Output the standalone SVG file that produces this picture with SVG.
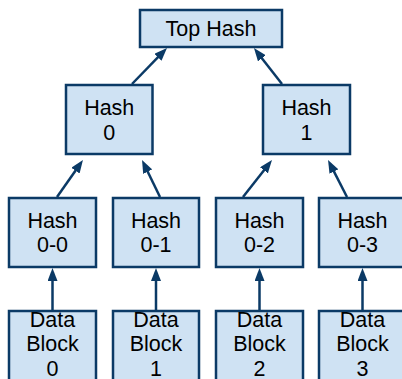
<svg xmlns="http://www.w3.org/2000/svg" width="402" height="379" viewBox="0 0 402 379">
<style>
.box{fill:#cfe2f3;stroke:#0b3a66;stroke-width:2.5}
.t{font-family:"Liberation Sans",Arial,sans-serif;font-size:21.5px;fill:#000;text-anchor:middle}
.c{stroke:#0b3a66;stroke-width:2.5;fill:none}
</style>
<defs>
<marker id="ah" markerUnits="userSpaceOnUse" markerWidth="13" markerHeight="10" refX="3" refY="5" orient="auto">
<path d="M0,0 L13,5 L0,10 z" fill="#0b3a66"/>
</marker>
</defs>
<g id="connectors">
<path class="c" d="M132,84 L160,55.2" marker-end="url(#ah)"/>
<path class="c" d="M282,84 L260.1,55.9" marker-end="url(#ah)"/>
<path class="c" d="M57,197 L77.2,168.2" marker-end="url(#ah)"/>
<path class="c" d="M160,197 L146.4,169" marker-end="url(#ah)"/>
<path class="c" d="M243,197 L265.8,167.9" marker-end="url(#ah)"/>
<path class="c" d="M347,197 L332.6,168.9" marker-end="url(#ah)"/>
<path class="c" d="M52.5,310 L52.5,278" marker-end="url(#ah)"/>
<path class="c" d="M156,310 L156,278" marker-end="url(#ah)"/>
<path class="c" d="M259.5,310 L259.5,278" marker-end="url(#ah)"/>
<path class="c" d="M362.5,310 L362.5,278" marker-end="url(#ah)"/>
</g>
<g id="top-hash"><rect class="box" x="140" y="10" width="142" height="37"/><text class="t" x="211" y="35.5">Top Hash</text></g>
<g id="hash-0"><rect class="box" x="66" y="85" width="86.5" height="69"/><text class="t" x="109.25" y="115">Hash</text><text class="t" x="109.25" y="140">0</text></g>
<g id="hash-1"><rect class="box" x="263" y="85" width="87" height="69"/><text class="t" x="306.5" y="115">Hash</text><text class="t" x="306.5" y="140">1</text></g>
<g id="hash-0-0"><rect class="box" x="9" y="198" width="87" height="69"/><text class="t" x="52.5" y="228">Hash</text><text class="t" x="52.5" y="252">0-0</text></g>
<g id="hash-0-1"><rect class="box" x="113" y="198" width="86" height="69"/><text class="t" x="156" y="228">Hash</text><text class="t" x="156" y="252">0-1</text></g>
<g id="hash-0-2"><rect class="box" x="216" y="198" width="87" height="69"/><text class="t" x="259.5" y="228">Hash</text><text class="t" x="259.5" y="252">0-2</text></g>
<g id="hash-0-3"><rect class="box" x="319" y="198" width="87" height="69"/><text class="t" x="362.5" y="228">Hash</text><text class="t" x="362.5" y="252">0-3</text></g>
<g id="data-block-0"><rect class="box" x="9" y="311" width="87" height="80"/><text class="t" x="52.5" y="327">Data</text><text class="t" x="52.5" y="351">Block</text><text class="t" x="52.5" y="376">0</text></g>
<g id="data-block-1"><rect class="box" x="113" y="311" width="86" height="80"/><text class="t" x="156" y="327">Data</text><text class="t" x="156" y="351">Block</text><text class="t" x="156" y="376">1</text></g>
<g id="data-block-2"><rect class="box" x="216" y="311" width="87" height="80"/><text class="t" x="259.5" y="327">Data</text><text class="t" x="259.5" y="351">Block</text><text class="t" x="259.5" y="376">2</text></g>
<g id="data-block-3"><rect class="box" x="319" y="311" width="87" height="80"/><text class="t" x="362.5" y="327">Data</text><text class="t" x="362.5" y="351">Block</text><text class="t" x="362.5" y="376">3</text></g>
</svg>
